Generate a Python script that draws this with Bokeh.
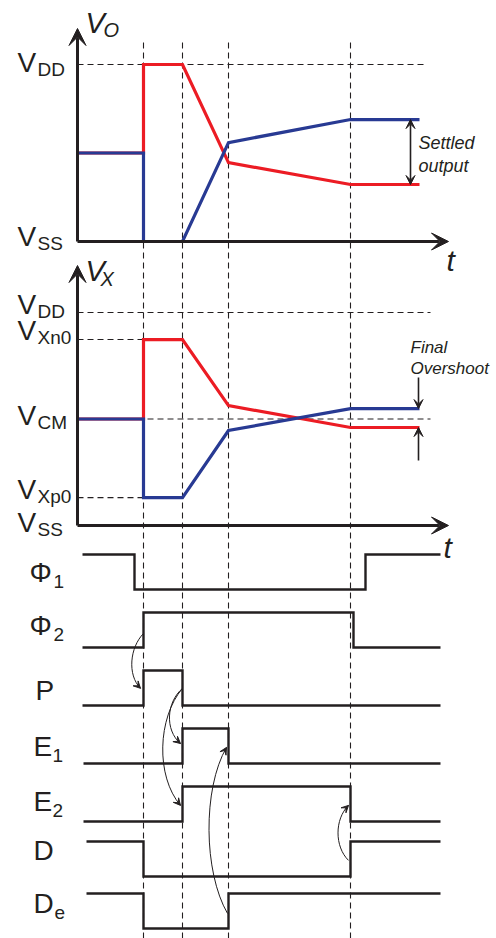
from bokeh.plotting import figure
from bokeh.models import Range1d, Arrow, VeeHead
from bokeh.core.properties import value
from bokeh.embed import file_html
from bokeh.resources import INLINE

W, H = 496, 938
FONT = "Liberation Sans"
INK = "#231f20"
RED = "#ec1c24"
BLUE = "#283a93"

# ---------------- data ----------------
# comparator timing events (arbitrary time units)
event_times = [6.6, 10.5, 15.1, 27.3]
trace_t = [0.0, 6.6, 6.6, 10.5, 15.1, 27.3, 34.2]

# output node V_O, normalised: VSS = 0, VDD = 1
vo_red = [0.50, 0.50, 1.00, 1.00, 0.446, 0.322, 0.322]
vo_blue = [0.50, 0.50, 0.00, 0.00, 0.559, 0.689, 0.689]

# internal node V_X, normalised: VSS = 0, VDD = 1
VCM, VXN0, VXP0 = 0.50, 0.873, 0.131
vx_red = [0.50, 0.50, 0.873, 0.873, 0.563, 0.460, 0.460]
vx_blue = [0.50, 0.50, 0.131, 0.131, 0.446, 0.549, 0.549]

# digital control signals
sig_main = ["Φ", "Φ", "P", "E", "E", "D", "D"]
sig_sub = ["1", "2", "", "1", "2", "", "e"]
sig_init = [1, 0, 0, 0, 0, 1, 1]
sig_edges = [[5.7, 28.8], [6.6, 27.6], [6.6, 10.5], [10.5, 15.1],
             [10.5, 27.3], [6.6, 27.3], [6.6, 15.1]]
sig_begin = [0.5, 0.5, 0.5, 0.6, 0.6, 0.9, 0.9]
sig_finish = 36.3

# cause -> effect: (from signal, time, to signal, time)
causes = [(1, 6.6, 2, 6.3), (2, 10.5, 3, 10.3), (2, 10.5, 4, 10.3),
          (6, 15.0, 3, 14.9), (5, 27.1, 4, 27.1)]

# ---------------- layout ----------------
X0_PX, PX_PER_T = 77, 10.0
VO_PX = (241, 64)          # pixel rows of VSS and VDD, output panel
VX_PX = (525, 312)         # pixel rows of VSS and VDD, internal panel
DIG_BASE_PX, DIG_AMP_PX = 928, 35
LANE_LOW_PX = [589, 647, 705, 763, 821, 876, 928]
LANE_LABEL_FRAC = [0.49, 0.63, 0.43, 0.49, 0.57, 0.74, 0.71]
CAUSE_FRAC = [(0.40, 0.49), (0.49, 0.57), (0.49, 0.46), (0.43, 0.46), (0.46, 0.46)]
CAUSE_BULGE = [1.35, 1.6, 2.5, 2.4, 1.4]


def span_range(px_lo, px_hi):
    k = (px_lo - px_hi)  # pixels per unit (0 -> px_lo, 1 -> px_hi)
    return Range1d(-(H - px_lo) / k, px_lo / k)


lane = [(DIG_BASE_PX - px) / DIG_AMP_PX for px in LANE_LOW_PX]

p = figure(width=W, height=H, output_backend="svg", toolbar_location=None,
           x_range=Range1d(-X0_PX / PX_PER_T, (W - X0_PX) / PX_PER_T),
           y_range=span_range(DIG_BASE_PX, DIG_BASE_PX - DIG_AMP_PX),
           x_axis_type=None, y_axis_type=None, min_border=0,
           outline_line_color=None, background_fill_color="white",
           border_fill_color="white")
p.extra_y_ranges = {"vo": span_range(*VO_PX), "vx": span_range(*VX_PX)}

# vertical event markers through every panel
top_vo = (VO_PX[0] - 42) / (VO_PX[0] - VO_PX[1])
p.segment(x0=event_times, y0=[top_vo] * 4, x1=event_times,
          y1=[p.extra_y_ranges["vo"].start] * 4, y_range_name="vo",
          line_color=INK, line_width=1.1, line_dash="6 4")

# horizontal reference levels
p.segment(x0=[0], y0=[1.0], x1=[35.0], y1=[1.0], y_range_name="vo",
          line_color=INK, line_width=1.1, line_dash="6 4")
p.segment(x0=[0, 0, 0, 0], y0=[1.0, VCM, VXN0, VXP0],
          x1=[35.3, 35.3, 6.6, 6.6], y1=[1.0, VCM, VXN0, VXP0],
          y_range_name="vx", line_color=INK, line_width=1.1, line_dash="6 4")

# analog traces
for rng, red, blue in (("vo", vo_red, vo_blue), ("vx", vx_red, vx_blue)):
    p.line(trace_t, red, y_range_name=rng, line_color=RED, line_width=3.2,
           line_join="miter")
    p.line(trace_t, blue, y_range_name=rng, line_color=BLUE, line_width=3.2,
           line_join="miter")

# axes with arrow tips
for rng, tip_px, lo_px, hi_px in (("vo", 28, *VO_PX), ("vx", 265, *VX_PX)):
    top = (lo_px - tip_px) / (lo_px - hi_px)
    for xs, ys, xe, ye in ((0, 0, 0, top), (0, 0, 37.1, 0)):
        p.add_layout(Arrow(x_start=xs, y_start=ys, x_end=xe, y_end=ye,
                           y_range_name=rng, line_color=INK, line_width=3,
                           end=VeeHead(size=17, fill_color=INK, line_color=INK)))

# settled output span
p.add_layout(Arrow(x_start=33.3, y_start=vo_blue[-1], x_end=33.3, y_end=vo_red[-1],
                   y_range_name="vo", line_color=INK, line_width=1.6,
                   start=VeeHead(size=9, fill_color=INK, line_color=INK),
                   end=VeeHead(size=9, fill_color=INK, line_color=INK)))
# final overshoot arrows
p.add_layout(Arrow(x_start=34.1, y_start=0.695, x_end=34.1, y_end=vx_blue[-1],
                   y_range_name="vx", line_color=INK, line_width=1.6,
                   end=VeeHead(size=9, fill_color=INK, line_color=INK)))
p.add_layout(Arrow(x_start=34.1, y_start=0.305, x_end=34.1, y_end=vx_red[-1],
                   y_range_name="vx", line_color=INK, line_width=1.6,
                   end=VeeHead(size=9, fill_color=INK, line_color=INK)))

# digital waveforms
for i in range(len(sig_main)):
    lvl = sig_init[i]
    xs, ys = [sig_begin[i]], [lane[i] + lvl]
    for e in sig_edges[i]:
        xs += [e, e]
        ys += [lane[i] + lvl, lane[i] + 1 - lvl]
        lvl = 1 - lvl
    xs.append(sig_finish)
    ys.append(lane[i] + lvl)
    p.line(xs, ys, line_color=INK, line_width=2.4, line_join="miter")

# causality curves
for (a, ta, b, tb), (fa, fb), bulge in zip(causes, CAUSE_FRAC, CAUSE_BULGE):
    y0, y1 = lane[a] + fa, lane[b] + fb
    dy = y1 - y0
    cx0, cy0 = ta - bulge, y0 + 0.25 * dy
    cx1, cy1 = tb - bulge, y1 - 0.25 * dy
    p.bezier(x0=[ta], y0=[y0], x1=[tb], y1=[y1], cx0=[cx0], cy0=[cy0],
             cx1=[cx1], cy1=[cy1], line_color=INK, line_width=1.0)
    p.add_layout(Arrow(x_start=tb + 0.12 * (cx1 - tb), y_start=y1 + 0.12 * (cy1 - y1),
                       x_end=tb, y_end=y1, line_alpha=0,
                       end=VeeHead(size=7, fill_color=INK, line_color=INK)))


def txt(x, y, s, size, rng="default", style="normal", yoff=0, align="left"):
    kw = {} if rng == "default" else {"y_range_name": rng}
    p.text(x=[x], y=[y], text=[s], text_font=value(FONT), text_font_size=size,
           text_font_style=style, text_color=INK, text_align=align,
           text_baseline="middle", y_offset=yoff, **kw)


MAIN, SUB = "28px", "19px"
# level labels
for rng, items in (("vo", [("DD", 1.0, -2), ("SS", 0.0, -5)]),
                   ("vx", [("DD", 1.0, -8), ("Xn0", VXN0, -9), ("CM", VCM, -4),
                           ("Xp0", VXP0, -8), ("SS", 0.0, -3)])):
    for sub, lv, nudge in items:
        txt(-6.0, lv, "V", MAIN, rng, yoff=nudge)
        txt(-4.0, lv, sub, SUB, rng, yoff=nudge + 7)

# panel headings
top_o = (VO_PX[0] - 28) / (VO_PX[0] - VO_PX[1])
top_x = (VX_PX[0] - 265) / (VX_PX[0] - VX_PX[1])
txt(0.8, top_o, "V", "29px", "vo", "italic", -6)
txt(2.6, top_o, "O", "20px", "vo", "italic", 1)
txt(0.8, top_x, "V", "29px", "vx", "italic", 5)
txt(2.3, top_x, "X", "20px", "vx", "italic", 13)
txt(36.9, 0.0, "t", "30px", "vo", "italic", 19)
txt(36.6, 0.0, "t", "30px", "vx", "italic", 22)

# annotations
txt(34.1, 0.554, "Settled", "18px", "vo", "italic")
txt(34.1, 0.429, "output", "18px", "vo", "italic")
txt(33.3, 0.836, "Final", "17px", "vx", "italic")
txt(33.3, 0.737, "Overshoot", "17px", "vx", "italic")

# lane labels
main_x = {"Φ": -4.8, "P": -4.2, "E": -4.4, "D": -4.4}
sub_x = {"Φ": -2.4, "E": -2.5, "D": -2.3}
for i, (m, s) in enumerate(zip(sig_main, sig_sub)):
    y = lane[i] + LANE_LABEL_FRAC[i]
    txt(main_x[m], y, m, MAIN)
    if s:
        txt(sub_x[m], y, s, SUB, yoff=9)

open("out.html", "w").write(file_html(p, INLINE))
